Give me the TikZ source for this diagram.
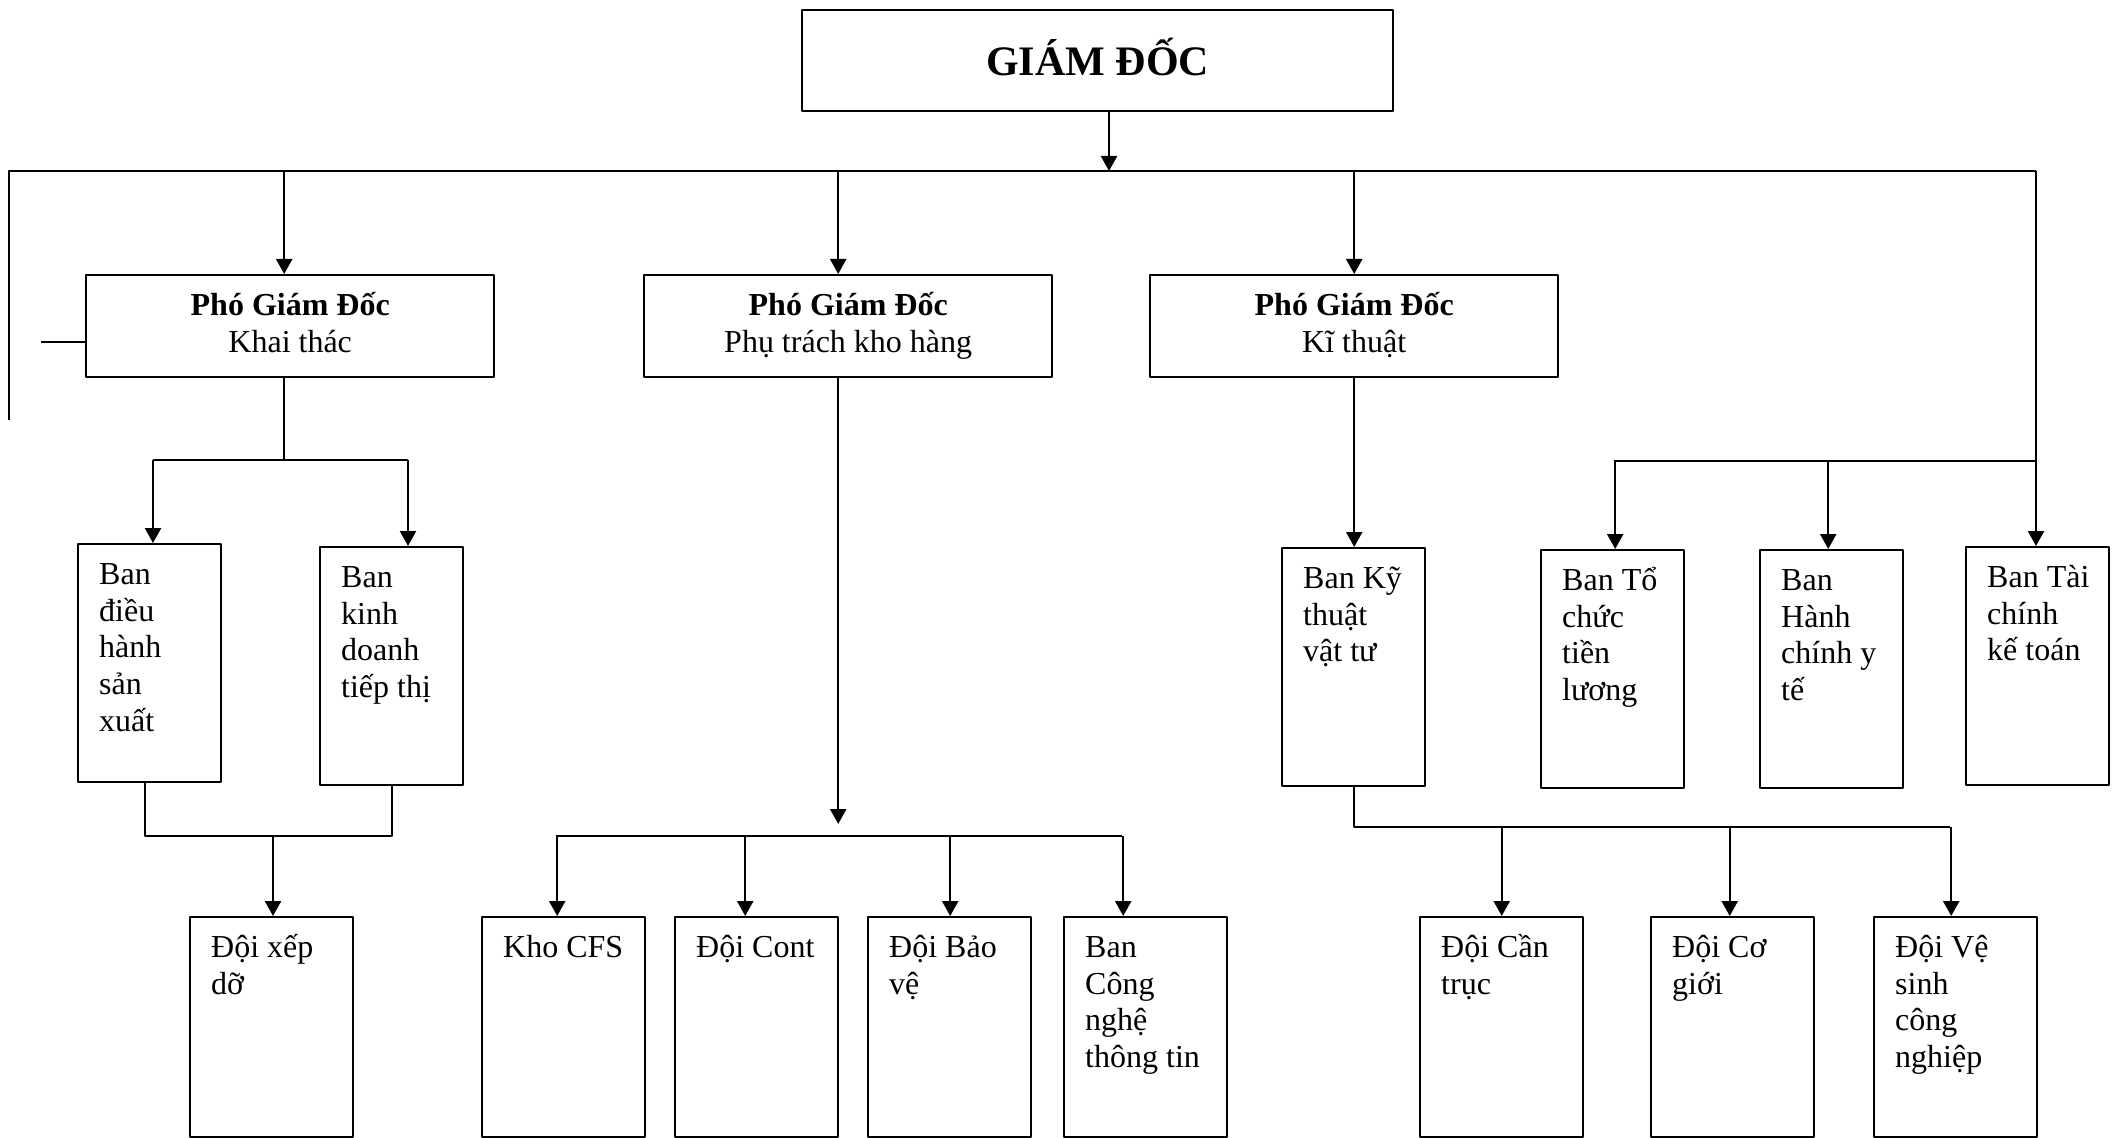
\documentclass[tikz,border=0pt]{standalone}
\usepackage{fontspec}
\setmainfont{Liberation Serif}
\usetikzlibrary{arrows.meta}
\newcommand{\topstrut}{\rule{0pt}{15pt}}
\newcommand{\botstrut}{\rule[-4pt]{0pt}{4pt}}

\begin{document}
\begin{tikzpicture}[x=0.5pt, y=-0.5pt, line width=1.2pt, line join=round, >={Triangle[length=7.5pt,width=8pt]}, font=\fontsize{16pt}{18.4pt}\selectfont,
	unit/.style={draw, anchor=north west, inner sep=0pt},
	head/.style={unit, minimum width=204pt, minimum height=51pt, align=center},
	ban/.style={unit, minimum width=71.5pt, minimum height=119pt},
	doi/.style={unit, minimum width=81.5pt, minimum height=110pt},
	txt/.style={anchor=north west, inner sep=0pt, align=left, xshift=10.5pt, yshift=-5pt}]
			\useasboundingbox (0,0) rectangle (2123,1138);
			% giam doc
			\node[unit, minimum width=295.5pt, minimum height=50.5pt, text depth=4pt, font=\fontsize{21pt}{24pt}\selectfont\bfseries] (gd) at (801,9) {GIÁM ĐỐC};
			\node[head] (pgd1) at (85,274) {\textbf{Phó Giám Đốc}\\Khai thác\botstrut};
			\node[head] (pgd2) at (643,274) {\textbf{Phó Giám Đốc}\\Phụ trách kho hàng\botstrut};
			\node[head] (pgd3) at (1149,274) {\textbf{Phó Giám Đốc}\\Kĩ thuật\botstrut};
			% cac ban
			\node[ban] (bdh) at (77,543) {};
			\node[ban] (bkd) at (319,546) {};
			\node[ban] (bkt) at (1281,547) {};
			\node[ban] (btc) at (1540,549) {};
			\node[ban] (bhc) at (1759,549) {};
			\node[ban] (btk) at (1965,546) {};
			\node[txt] (bdh-t) at (bdh.north west) {\topstrut Ban\\điều\\hành\\sản\\xuất};
			\node[txt] (bkd-t) at (bkd.north west) {\topstrut Ban\\kinh\\doanh\\tiếp thị};
			\node[txt] (bkt-t) at (bkt.north west) {\topstrut Ban Kỹ\\thuật\\vật tư};
			\node[txt] (btc-t) at (btc.north west) {\topstrut Ban Tổ\\chức\\tiền\\lương};
			\node[txt] (bhc-t) at (bhc.north west) {\topstrut Ban\\Hành\\chính y\\tế};
			\node[txt] (btk-t) at (btk.north west) {\topstrut Ban Tài\\chính\\kế toán};
			% cac doi
			\node[doi] (dxd) at (189,916) {};
			\node[doi] (kho) at (481,916) {};
			\node[doi] (dcont) at (674,916) {};
			\node[doi] (dbv) at (867,916) {};
			\node[doi] (bcn) at (1063,916) {};
			\node[doi] (dcan) at (1419,916) {};
			\node[doi] (dcg) at (1650,916) {};
			\node[doi] (dvs) at (1873,916) {};
			\node[txt] (dxd-t) at (dxd.north west) {\topstrut Đội xếp\\dỡ};
			\node[txt] (kho-t) at (kho.north west) {\topstrut Kho CFS};
			\node[txt] (dcont-t) at (dcont.north west) {\topstrut Đội Cont};
			\node[txt] (dbv-t) at (dbv.north west) {\topstrut Đội Bảo\\vệ};
			\node[txt] (bcn-t) at (bcn.north west) {\topstrut Ban\\Công\\nghệ\\thông tin};
			\node[txt] (dcan-t) at (dcan.north west) {\topstrut Đội Cần\\trục};
			\node[txt] (dcg-t) at (dcg.north west) {\topstrut Đội Cơ\\giới};
			\node[txt] (dvs-t) at (dvs.north west) {\topstrut Đội Vệ\\sinh\\công\\nghiệp};
			% duong noi
			\coordinate (bus) at (1109,171);
			\coordinate (busL) at (9,171);
			\coordinate (busR) at (2036,171);
			\coordinate (lend) at (9,420);
			\coordinate (c1) at ([xshift=-3pt]pgd1.north);
			\coordinate (c2) at ([xshift=-5pt]pgd2.north);
			\draw[->] (gd.south -| bus) -- (bus);
			\draw (lend) -- (busL) -- (busR);
			\draw[->] (busR) -- (busR |- btk.north);
			\draw[->] (bus -| c1) -- (c1);
			\draw[->] (bus -| c2) -- (c2);
			\draw[->] (bus -| pgd3.north) -- (pgd3.north);
			\draw ([yshift=-8pt]pgd1.west) -- ++(-44,0);
			% khai thac
			\coordinate (k1l) at (153,460);
			\coordinate (k1r) at (408,460);
			\draw (c1 |- pgd1.south) -- (c1 |- k1l);
			\draw (k1l) -- (k1r);
			\draw[->] (k1l) -- (k1l |- bdh.north);
			\draw[->] (k1r) -- (k1r |- bkd.north);
			\coordinate (k2) at (273,836);
			\draw ([xshift=-2.5pt]bdh.south) |- (k2) -| (bkd.south);
			\draw[->] (k2) -- (k2 |- dxd.north);
			% kho hang
			\coordinate (k3l) at (556,836);
			\coordinate (k3r) at (1122,836);
			\path (c2 |- k3l) ++(0,-12) coordinate (t2);
			\draw[->] (c2 |- pgd2.south) -- (t2);
			\draw (k3l) -- (k3r);
			\foreach \n/\dx in {kho/-3.25pt, dcont/-5.75pt, dbv/0.25pt, bcn/-11.25pt}
				\draw[<-] ([xshift=\dx]\n.north) -- ++(0,-80);
			% ky thuat
			\coordinate (k4) at (1950,827);
			\draw[->] (pgd3.south) -- (pgd3.south |- bkt.north);
			\draw (bkt.south) |- (k4);
			\foreach \n/\dx in {dcan/0pt, dcg/-1.5pt, dvs/-2.25pt}
				\draw[<-] ([xshift=\dx]\n.north) -- ++(0,-89);
			% phong ban
			\coordinate (k5) at (1614,461);
			\draw (k5) -- (busR |- k5);
			\foreach \n/\dx in {btc/1.25pt, bhc/-1.75pt}
				\draw[<-] ([xshift=\dx]\n.north) -- ++(0,-88);
		\end{tikzpicture}
\end{document}
